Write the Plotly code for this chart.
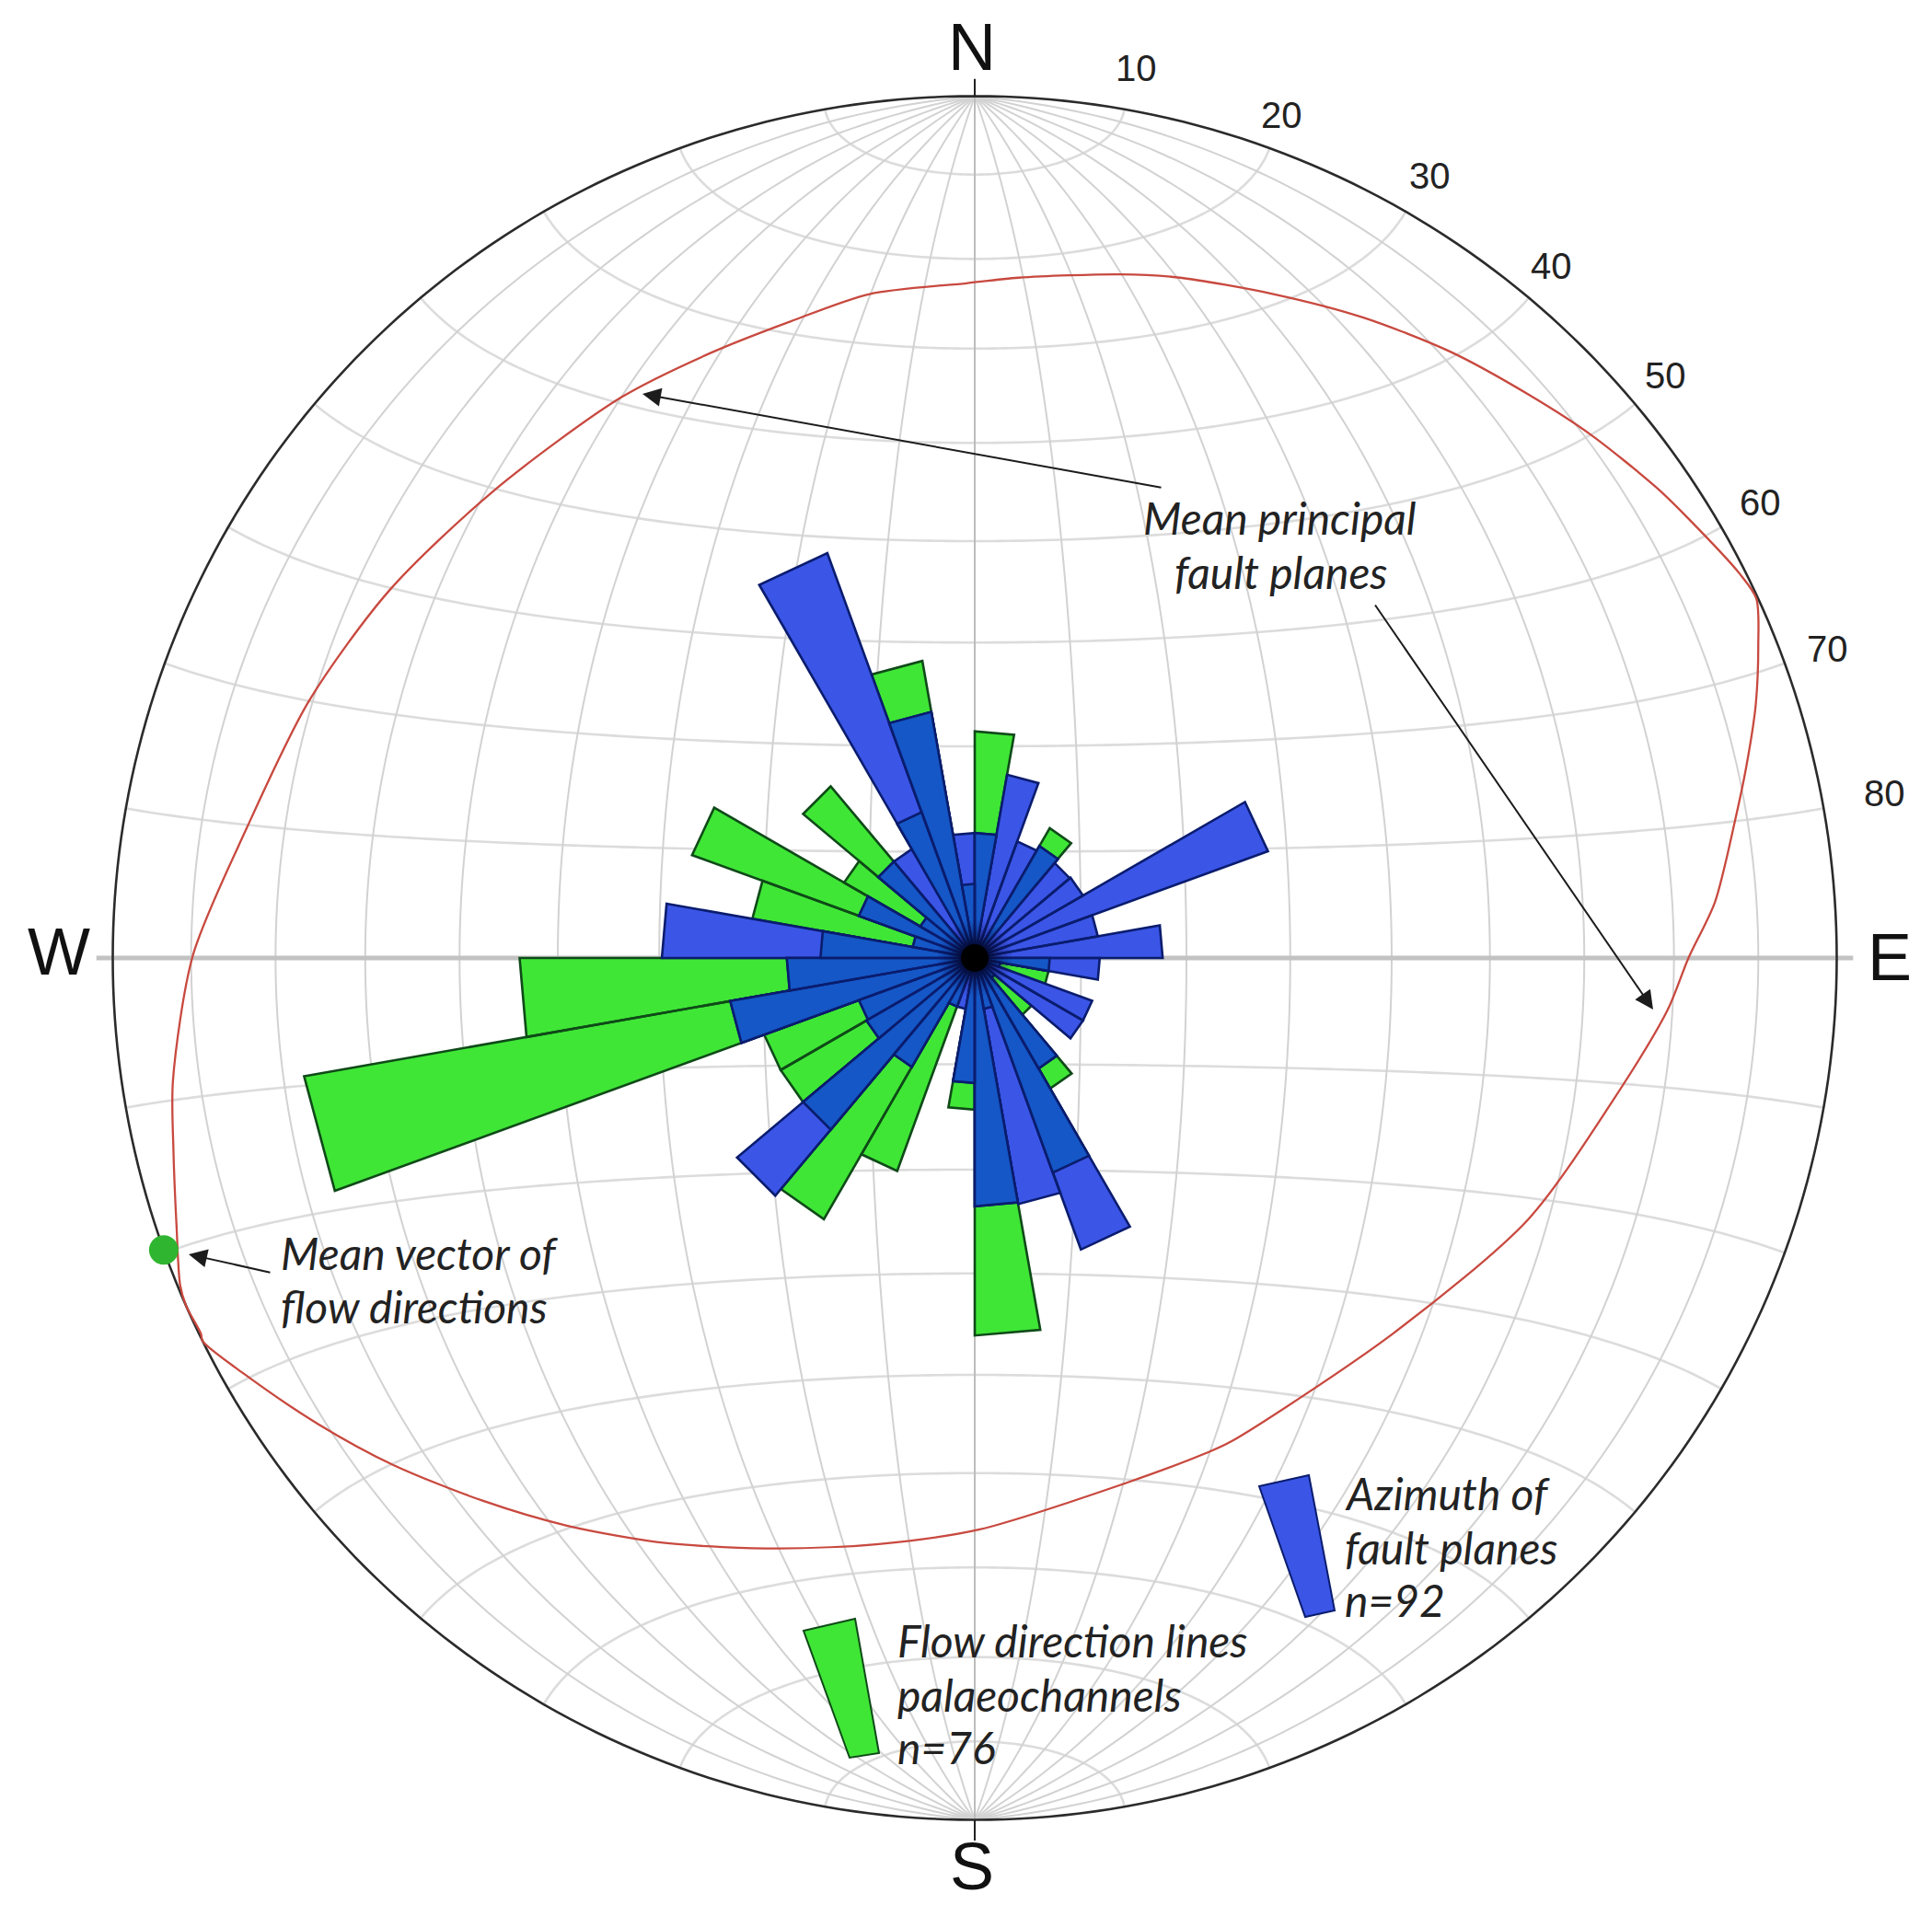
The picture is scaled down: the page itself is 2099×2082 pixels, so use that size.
"""Rose diagram of fault azimuths and flow directions on an equal-area net."""

import numpy as np
import plotly.graph_objects as go

# 10 degree bins, r in percent of the net radius
BIN_START = list(range(0, 360, 10))
BLUE_R = [14.5, 21.6, 14.4, 15.0, 14.4, 14.5, 36.2, 14.5, 21.8, 14.5,
          3.0, 14.5, 14.5, 3.0, 14.8, 36.0, 29.0, 28.8, 14.5, 6.0,
          6.0, 14.6, 36.0, 14.5, 14.3, 28.8, 21.8, 36.3, 7.3, 14.3,
          7.3, 14.6, 14.6, 50.0, 29.0, 14.5]
GREEN_R = [26.3, 0, 0, 17.4, 0, 0, 0, 0, 0, 8.7,
           8.7, 0, 0, 8.6, 17.5, 26.5, 6.0, 43.8, 17.6, 0,
           26.3, 35.0, 26.0, 26.0, 26.0, 79.0, 52.8, 17.9, 26.2, 34.9,
           17.5, 26.0, 0, 18.0, 35.0, 8.6]

# mean principal fault planes
PLANE_THETA = [65.3, 63.3, 58.3, 55.4, 49.7, 44.6, 38.1, 31.2, 24.3, 16.6, 12.0, 3.7, 359.3,
               351.0, 343.9, 336.5, 327.8, 314.2, 302.1, 291.1, 280.1, 270.2, 261.3, 256.5,
               251.4, 247.6, 246.2, 244.1, 243.6, 240.3, 234.6, 228.9, 222.2, 215.7, 207.7,
               198.4, 189.3, 179.5, 164.0, 155.1, 152.0, 132.0, 115.3, 102.7, 94.3, 90.0,
               85.7, 79.8, 76.1, 72.1, 68.2, 65.3]
PLANE_R = [99.8, 99.3, 97.2, 96.1, 93.8, 91.7, 89.4, 86.9, 84.5, 82.4, 81.1, 79.1, 78.3,
           78.0, 76.9, 76.6, 76.9, 77.8, 80.2, 82.8, 85.8, 90.7, 94.1, 95.6,
           97.7, 99.7, 100.0, 99.8, 100.0, 97.5, 93.4, 89.5, 85.0, 81.1, 76.7,
           72.2, 68.9, 66.3, 63.4, 63.4, 63.5, 65.2, 71.0, 75.8, 80.6, 82.8,
           86.1, 89.6, 92.2, 95.2, 97.9, 99.8]

MEAN_VECTOR_THETA = [250.2]
MEAN_VECTOR_R = [100]

RIM_LABELS = ["10", "20", "30", "40", "50", "60", "70", "80"]
RIM_LABEL_X = [1234, 1392, 1553, 1685, 1809, 1912, 1985, 2047]
RIM_LABEL_Y = [74, 125, 191, 289, 408, 546, 705, 862]

COMPASS_LABELS = ["N", "S", "W", "E"]
COMPASS_X = [1056, 1056, 64, 2053]
COMPASS_Y = [51, 2028, 1034, 1040]

# page pixels of the net and of the browser's default body margin
PAGE_MARGIN = 8
WIDTH = 2099 - PAGE_MARGIN
HEIGHT = 2082 - PAGE_MARGIN
CENTER_X = 1059
CENTER_Y = 1041
RADIUS = 936.5
R_MAX = 104

GRID_COLOR = "#d2d2d2"
GREEN = "#3fe636"
BLUE = "#3b55e6"
OVERLAP = "#1557c6"
GREEN_EDGE = "#0f4a18"
BLUE_EDGE = "#0a1c6e"
LABEL_FONT = dict(family="Lato", size=48, color="#222222")
TICK_FONT = dict(family="Liberation Sans", size=40, color="#222222")
COMPASS_FONT = dict(family="Liberation Sans", size=72, color="#111111")


def px_x(x):
    return (x - PAGE_MARGIN) / WIDTH


def px_y(y):
    return 1 - (y - PAGE_MARGIN) / HEIGHT


def net_to_polar(lat, lon):
    """Schmidt net position of lat/lon, as azimuth and percent of the radius."""
    lat, lon = np.radians(lat), np.radians(lon)
    k = 1 / np.sqrt(1 + np.cos(lat) * np.cos(lon))
    x = k * np.cos(lat) * np.sin(lon)
    y = k * np.sin(lat)
    return np.degrees(np.arctan2(x, y)) % 360, 100 * np.hypot(x, y)


def net_lines(pairs):
    thetas, rs = [], []
    for lat, lon in pairs:
        theta, r = net_to_polar(lat, lon)
        thetas += list(theta) + [None]
        rs += list(r) + [None]
    return thetas, rs


def line_trace(theta, r, color, width, **line_opts):
    return go.Scatterpolar(
        theta=theta, r=r, mode="lines", cliponaxis=False,
        line=dict(color=color, width=width, **line_opts), hoverinfo="skip", showlegend=False,
    )


def petal_trace(values, color, edge):
    # straight-ended petals, as in the original rose
    theta, r = [], []
    for start, value in zip(BIN_START, values):
        if value > 0:
            theta += [start, start, start + 10, start, None]
            r += [0, value, value, 0, None]
    return go.Scatterpolar(
        theta=theta, r=r, mode="lines", fill="toself", fillcolor=color, cliponaxis=False,
        line=dict(color=edge, width=2.6), hoverinfo="skip", showlegend=False,
    )


steps = [10, 20, 30, 40, 50, 60, 70, 80]
sweep = np.linspace(-90, 90, 181)
parallels = [(np.full(181, s * sign), sweep) for s in steps for sign in (1, -1)]
meridians = [(sweep, np.full(181, s * sign)) for s in steps for sign in (1, -1)]

fig = go.Figure()

# net
fig.add_trace(line_trace(*net_lines(parallels), "#dcdcdc", 2.6))
fig.add_trace(line_trace(*net_lines(meridians), GRID_COLOR, 2))
fig.add_trace(line_trace([90, 90, None, 270, 270], [0, 101.9, None, 0, 101.9], "#c2c2c2", 5))
fig.add_trace(line_trace([0, 0], [0, 100], "#bdbdbd", 2))
fig.add_trace(line_trace([180, 180], [0, 100], "#bdbdbd", 2))
fig.add_trace(line_trace(list(np.arange(0, 361, 1.0)), [100] * 361, "#2b2b2b", 2.6))
fig.add_trace(line_trace([0, 0, None, 180, 180], [100, 102, None, 100, 102.4], "#222222", 2))

# roses: overlap is the part where both classes reach
fig.add_trace(petal_trace(GREEN_R, GREEN, GREEN_EDGE))
fig.add_trace(petal_trace(BLUE_R, BLUE, BLUE_EDGE))
fig.add_trace(petal_trace(list(np.minimum(GREEN_R, BLUE_R)), OVERLAP, BLUE_EDGE))

# dark knot where all the petal edges meet
fig.add_trace(go.Scatterpolar(
    theta=[0], r=[0], mode="markers",
    marker=dict(size=84, color="rgba(5,15,90,0)", line=dict(width=0),
                gradient=dict(type="radial", color="#000000")),
    hoverinfo="skip", showlegend=False,
))
fig.add_trace(go.Scatterpolar(
    theta=[0], r=[0], mode="markers",
    marker=dict(size=30, color="#000000", line=dict(width=0)),
    hoverinfo="skip", showlegend=False,
))

fig.add_trace(line_trace(PLANE_THETA, PLANE_R, "#c8493f", 2.3, shape="spline", smoothing=0.8))
fig.add_trace(go.Scatterpolar(
    theta=MEAN_VECTOR_THETA, r=MEAN_VECTOR_R, mode="markers", cliponaxis=False,
    marker=dict(size=32, color="#2fb52f", line=dict(width=0)),
    hoverinfo="skip", showlegend=False,
))

half = RADIUS * R_MAX / 100
polar = dict(
    domain=dict(x=[px_x(CENTER_X - half), px_x(CENTER_X + half)],
                y=[px_y(CENTER_Y + half), px_y(CENTER_Y - half)]),
    bgcolor="rgba(0,0,0,0)",
    radialaxis=dict(visible=False, range=[0, R_MAX]),
    angularaxis=dict(visible=False, direction="clockwise", rotation=90),
)

annotations = []
for text, x, y in zip(RIM_LABELS, RIM_LABEL_X, RIM_LABEL_Y):
    annotations.append(dict(text=text, x=px_x(x), y=px_y(y), font=TICK_FONT))
for text, x, y in zip(COMPASS_LABELS, COMPASS_X, COMPASS_Y):
    annotations.append(dict(text=text, x=px_x(x), y=px_y(y), font=COMPASS_FONT))

centered_notes = [("Mean principal", 1390, 562), ("fault planes", 1392, 621)]
for text, x, y in centered_notes:
    annotations.append(dict(text=f"<i>{text}</i>", x=px_x(x), y=px_y(y), font=LABEL_FONT))

left_notes = [
    ("Mean vector of", 303, 1361), ("flow directions", 303, 1419),
    ("Azimuth of", 1459, 1622), ("fault planes", 1459, 1681), ("n=92", 1459, 1738),
    ("Flow direction lines", 973, 1782), ("palaeochannels", 973, 1841), ("n=76", 973, 1898),
]
for text, x, y in left_notes:
    annotations.append(dict(text=f"<i>{text}</i>", x=px_x(x), y=px_y(y), xanchor="left", font=LABEL_FONT))

for ann in annotations:
    ann.update(xref="paper", yref="paper", showarrow=False, yanchor="middle")
    ann.setdefault("xanchor", "center")

# tail and tip of each leader
leaders = [((1263, 530), (698, 428)), ((1493, 656), (1796, 1097)), ((295, 1383), (205, 1363))]
for (tx, ty), (hx, hy) in leaders:
    annotations.append(dict(
        xref="paper", yref="paper", axref="pixel", ayref="pixel",
        x=px_x(hx), y=px_y(hy), ax=tx - hx, ay=ty - hy, text="",
        showarrow=True, arrowhead=2, arrowsize=2, arrowwidth=2, arrowcolor="#1c1c1c",
    ))


def swatch(corners, color, edge):
    path = "M " + " L ".join(f"{px_x(x):.5f} {px_y(y):.5f}" for x, y in corners) + " Z"
    return dict(type="path", xref="paper", yref="paper", path=path, fillcolor=color,
                line=dict(color=edge, width=2), layer="above")


shapes = [
    swatch([(1368, 1615), (1422, 1603), (1450, 1750), (1418, 1757)], BLUE, BLUE_EDGE),
    swatch([(873, 1772), (929, 1759), (955, 1905), (923, 1910)], GREEN, GREEN_EDGE),
]

fig.update_layout(
    width=WIDTH, height=HEIGHT,
    margin=dict(l=0, r=0, t=0, b=0),
    paper_bgcolor="white",
    polar=polar,
    annotations=annotations,
    shapes=shapes,
    showlegend=False,
)

fig.write_html("out.html")
